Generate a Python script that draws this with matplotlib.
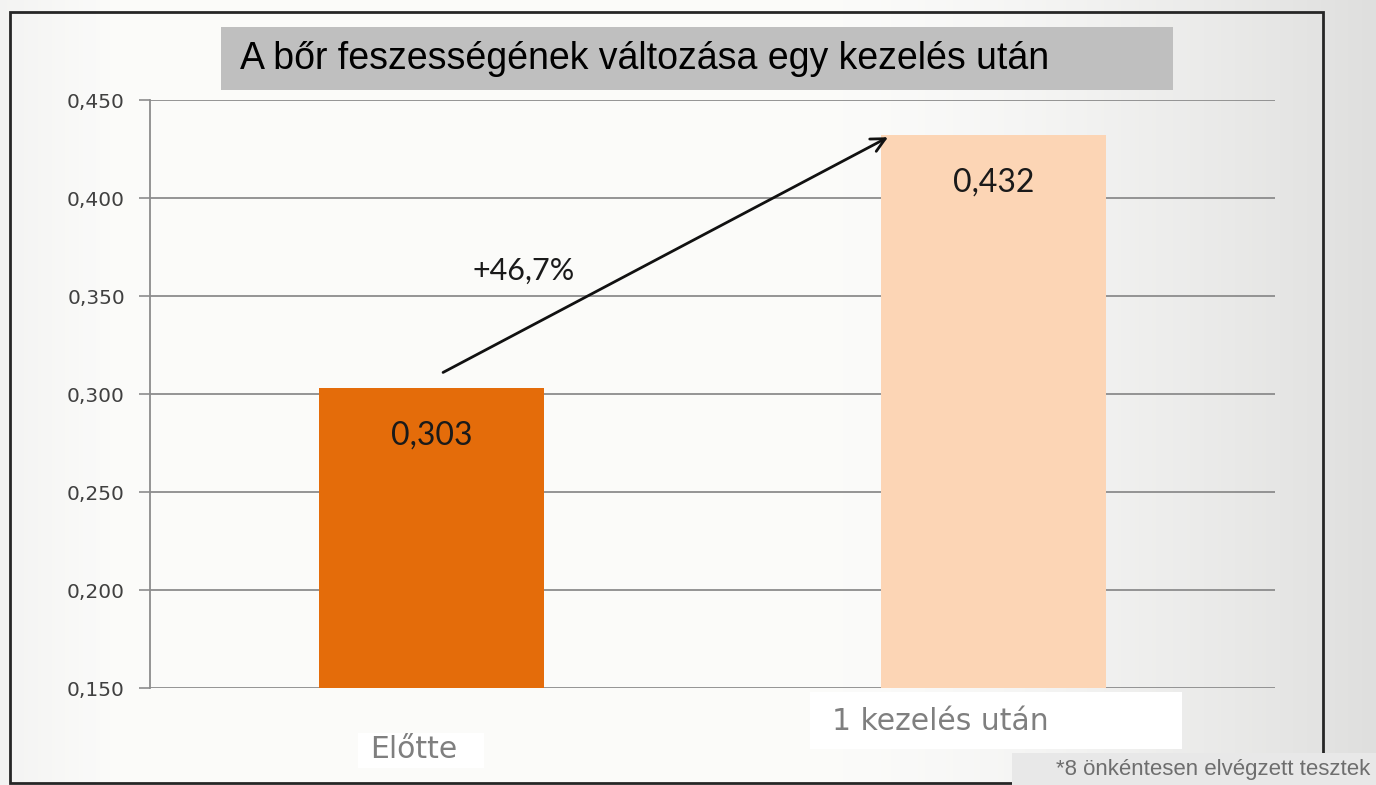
import matplotlib
matplotlib.use("Agg")
import matplotlib.pyplot as plt
import numpy as np
from matplotlib.patches import Rectangle

# ---- data ----
categories = ["Előtte", "1 kezelés után"]
values = [0.303, 0.432]
value_labels = ["0,303", "0,432"]
bar_colors = ["#E46C0A", "#FCD5B5"]
yticks = [0.150, 0.200, 0.250, 0.300, 0.350, 0.400, 0.450]
ytick_labels = ["0,150", "0,200", "0,250", "0,300", "0,350", "0,400", "0,450"]
title = "A bőr feszességének változása egy kezelés után"
change_label = "+46,7%"
footnote = "*8 önkéntesen elvégzett tesztek"

W, H = 1376, 785
fig = plt.figure(figsize=(W / 100, H / 100), dpi=100)


def fx(px):
    return px / W


def fy(py):
    return 1 - py / H


# ---- background ----
bg = fig.add_axes([0, 0, 1, 1], zorder=0)
xx = np.linspace(0, 1, 400)
yy = np.linspace(0, 1, 230)
X, Y = np.meshgrid(xx, yy)
val = 0.985 - 0.11 * np.clip((X - 0.6) / 0.4, 0, 1) ** 1.5 - 0.03 * np.clip((0.08 - X) / 0.08, 0, 1)
img = np.dstack([val, val, val * 0.995])
bg.imshow(img, extent=[0, 1, 0, 1], aspect="auto", origin="lower")
bg.set_xlim(0, 1)
bg.set_ylim(0, 1)
bg.axis("off")

# chart border
bg.add_patch(Rectangle((fx(10), fy(783)), fx(1323) - fx(10), fy(12) - fy(783),
                       fill=False, edgecolor="#262626", lw=2.0, zorder=2))

# category label boxes (layout)
bg.add_patch(Rectangle((fx(358), fy(768)), fx(484) - fx(358), fy(733) - fy(768),
                       fc="white", ec="none", zorder=2))
bg.add_patch(Rectangle((fx(810), fy(749)), fx(1182) - fx(810), fy(692) - fy(749),
                       fc="white", ec="none", zorder=2))

# ---- main axes ----
ax = fig.add_axes([fx(150), fy(688), fx(1275) - fx(150), fy(100) - fy(688)], zorder=2)
ax.patch.set_alpha(0)
x = np.arange(len(categories))
ax.bar(x, values, width=0.4, color=bar_colors, zorder=3)
ax.set_xlim(-0.5, 1.5)
ax.set_ylim(0.150, 0.450)
ax.set_yticks(yticks)
ax.set_yticklabels(ytick_labels, fontsize=14.5, color="#404040", family="DejaVu Sans")
ax.set_xticks([])
ax.yaxis.grid(True, color="#8C8C8C", lw=1.3, zorder=1)
ax.tick_params(axis="y", direction="out", length=8, width=1.2, color="#8C8C8C", pad=10)
for s in ["top", "right", "bottom"]:
    ax.spines[s].set_visible(False)
ax.spines["left"].set_color("#8C8C8C")
ax.spines["left"].set_linewidth(1.3)
ax.set_axisbelow(True)

# value labels inside bars
for i, (v, lab) in enumerate(zip(values, value_labels)):
    ax.annotate(lab, xy=(x[i], v), xytext=(0, -47), textcoords="offset pixels",
                ha="center", va="center", fontsize=23, color="#1a1a1a",
                family="Lato", zorder=4)

# change arrow
ax.annotate("", xy=(0.812, 0.431), xytext=(0.021, 0.311),
            arrowprops=dict(arrowstyle="->", color="#111111", lw=2.0,
                            mutation_scale=25, shrinkA=0, shrinkB=0), zorder=5)
ax.text(0.165, 0.363, change_label, ha="center", va="center", fontsize=22,
        color="#1a1a1a", family="Lato", zorder=5)

# category labels
cat_offsets = [(-61, -62), (-162, -33)]
for i, (cat, off) in enumerate(zip(categories, cat_offsets)):
    ax.annotate(cat, xy=(x[i], 0.150), xycoords="data", xytext=off, textcoords="offset pixels",
                ha="left", va="center", fontsize=21.5, color="#7F7F7F",
                family="DejaVu Sans", annotation_clip=False, zorder=6)

# title box
fig.patches.append(Rectangle((fx(221), fy(90)), fx(1173) - fx(221), fy(27) - fy(90),
                             transform=fig.transFigure, fc="#BFBFBF", ec="none", zorder=3))
fig.text(fx(240), fy(59), title, ha="left", va="center", fontsize=27,
         family="Liberation Sans", color="#000000", zorder=4)

# footnote
fig.patches.append(Rectangle((fx(1012), 0), 1 - fx(1012), fy(753),
                             transform=fig.transFigure, fc="#E8E8E8", ec="none", zorder=3))
fig.text(fx(1370), fy(770), footnote, ha="right", va="center", fontsize=16,
         family="Liberation Sans", color="#6E6E6E", zorder=4)

fig.savefig("out.png", dpi=100)
